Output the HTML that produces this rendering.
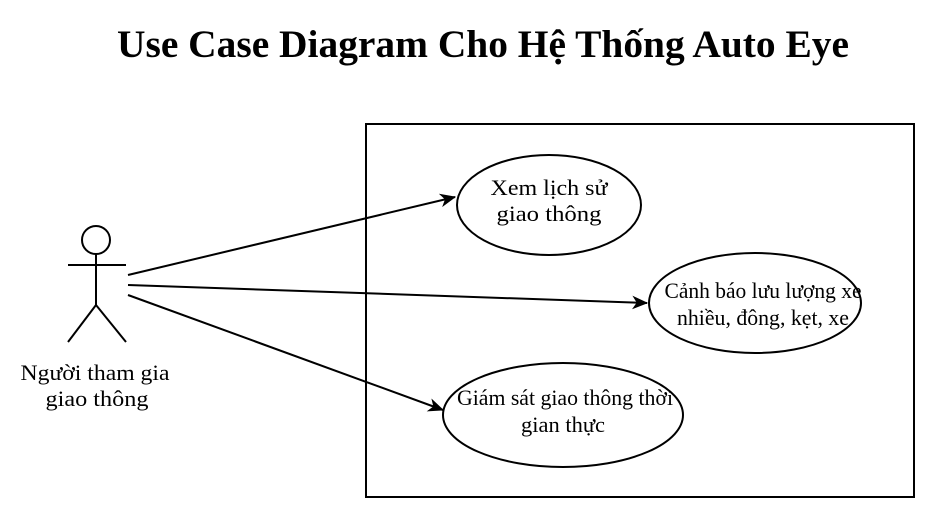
<!DOCTYPE html>
<html><head><meta charset="utf-8"><style>html,body{margin:0;padding:0;background:#fff}svg{display:block}</style></head>
<body>
<svg width="934" height="514" viewBox="0 0 934 514" xmlns="http://www.w3.org/2000/svg" font-family="'Liberation Serif', serif">
<defs>
<marker id="b" viewBox="0 0 14 12" refX="13" refY="6" markerWidth="16" markerHeight="14" markerUnits="userSpaceOnUse" orient="auto"><path d="M0,0 L14,6 L0,12 L4,6 Z" fill="#000"/></marker></defs>
<text x="483" y="57" text-anchor="middle" font-size="39" font-weight="bold" textLength="732" lengthAdjust="spacingAndGlyphs">Use Case Diagram Cho Hệ Thống Auto Eye</text>
<rect x="366" y="124" width="548" height="373" fill="none" stroke="#000" stroke-width="2"/>
<g stroke="#000" stroke-width="2" fill="none">
<circle cx="96" cy="240" r="14" fill="#fff"/>
<line x1="96" y1="254" x2="96" y2="305"/>
<line x1="68" y1="265" x2="126" y2="265"/>
<line x1="96" y1="305" x2="68" y2="342"/>
<line x1="96" y1="305" x2="126" y2="342"/>
<line x1="128" y1="275" x2="455" y2="197" marker-end="url(#b)"/>
<line x1="128" y1="285" x2="647" y2="303" marker-end="url(#b)"/>
<line x1="128" y1="295" x2="443" y2="410" marker-end="url(#b)"/>
<ellipse cx="549" cy="205" rx="92" ry="50" fill="#fff"/>
<ellipse cx="755" cy="303" rx="106" ry="50" fill="#fff"/>
<ellipse cx="563" cy="415" rx="120" ry="52" fill="#fff"/>
</g>
<g font-size="22" text-anchor="middle" fill="#000">
<text x="95" y="380" textLength="149" lengthAdjust="spacingAndGlyphs">Người tham gia</text>
<text x="97" y="406" textLength="103" lengthAdjust="spacingAndGlyphs">giao thông</text>
<text x="549" y="195" textLength="117" lengthAdjust="spacingAndGlyphs">Xem lịch sử</text>
<text x="549" y="221" textLength="105" lengthAdjust="spacingAndGlyphs">giao thông</text>
<text x="763" y="298" textLength="197" lengthAdjust="spacingAndGlyphs">Cảnh báo lưu lượng xe</text>
<text x="763" y="325" textLength="172" lengthAdjust="spacingAndGlyphs">nhiều, đông, kẹt, xe</text>
<text x="565" y="405" textLength="216" lengthAdjust="spacingAndGlyphs">Giám sát giao thông thời</text>
<text x="563" y="432" textLength="84" lengthAdjust="spacingAndGlyphs">gian thực</text>
</g>
</svg>
</body></html>
